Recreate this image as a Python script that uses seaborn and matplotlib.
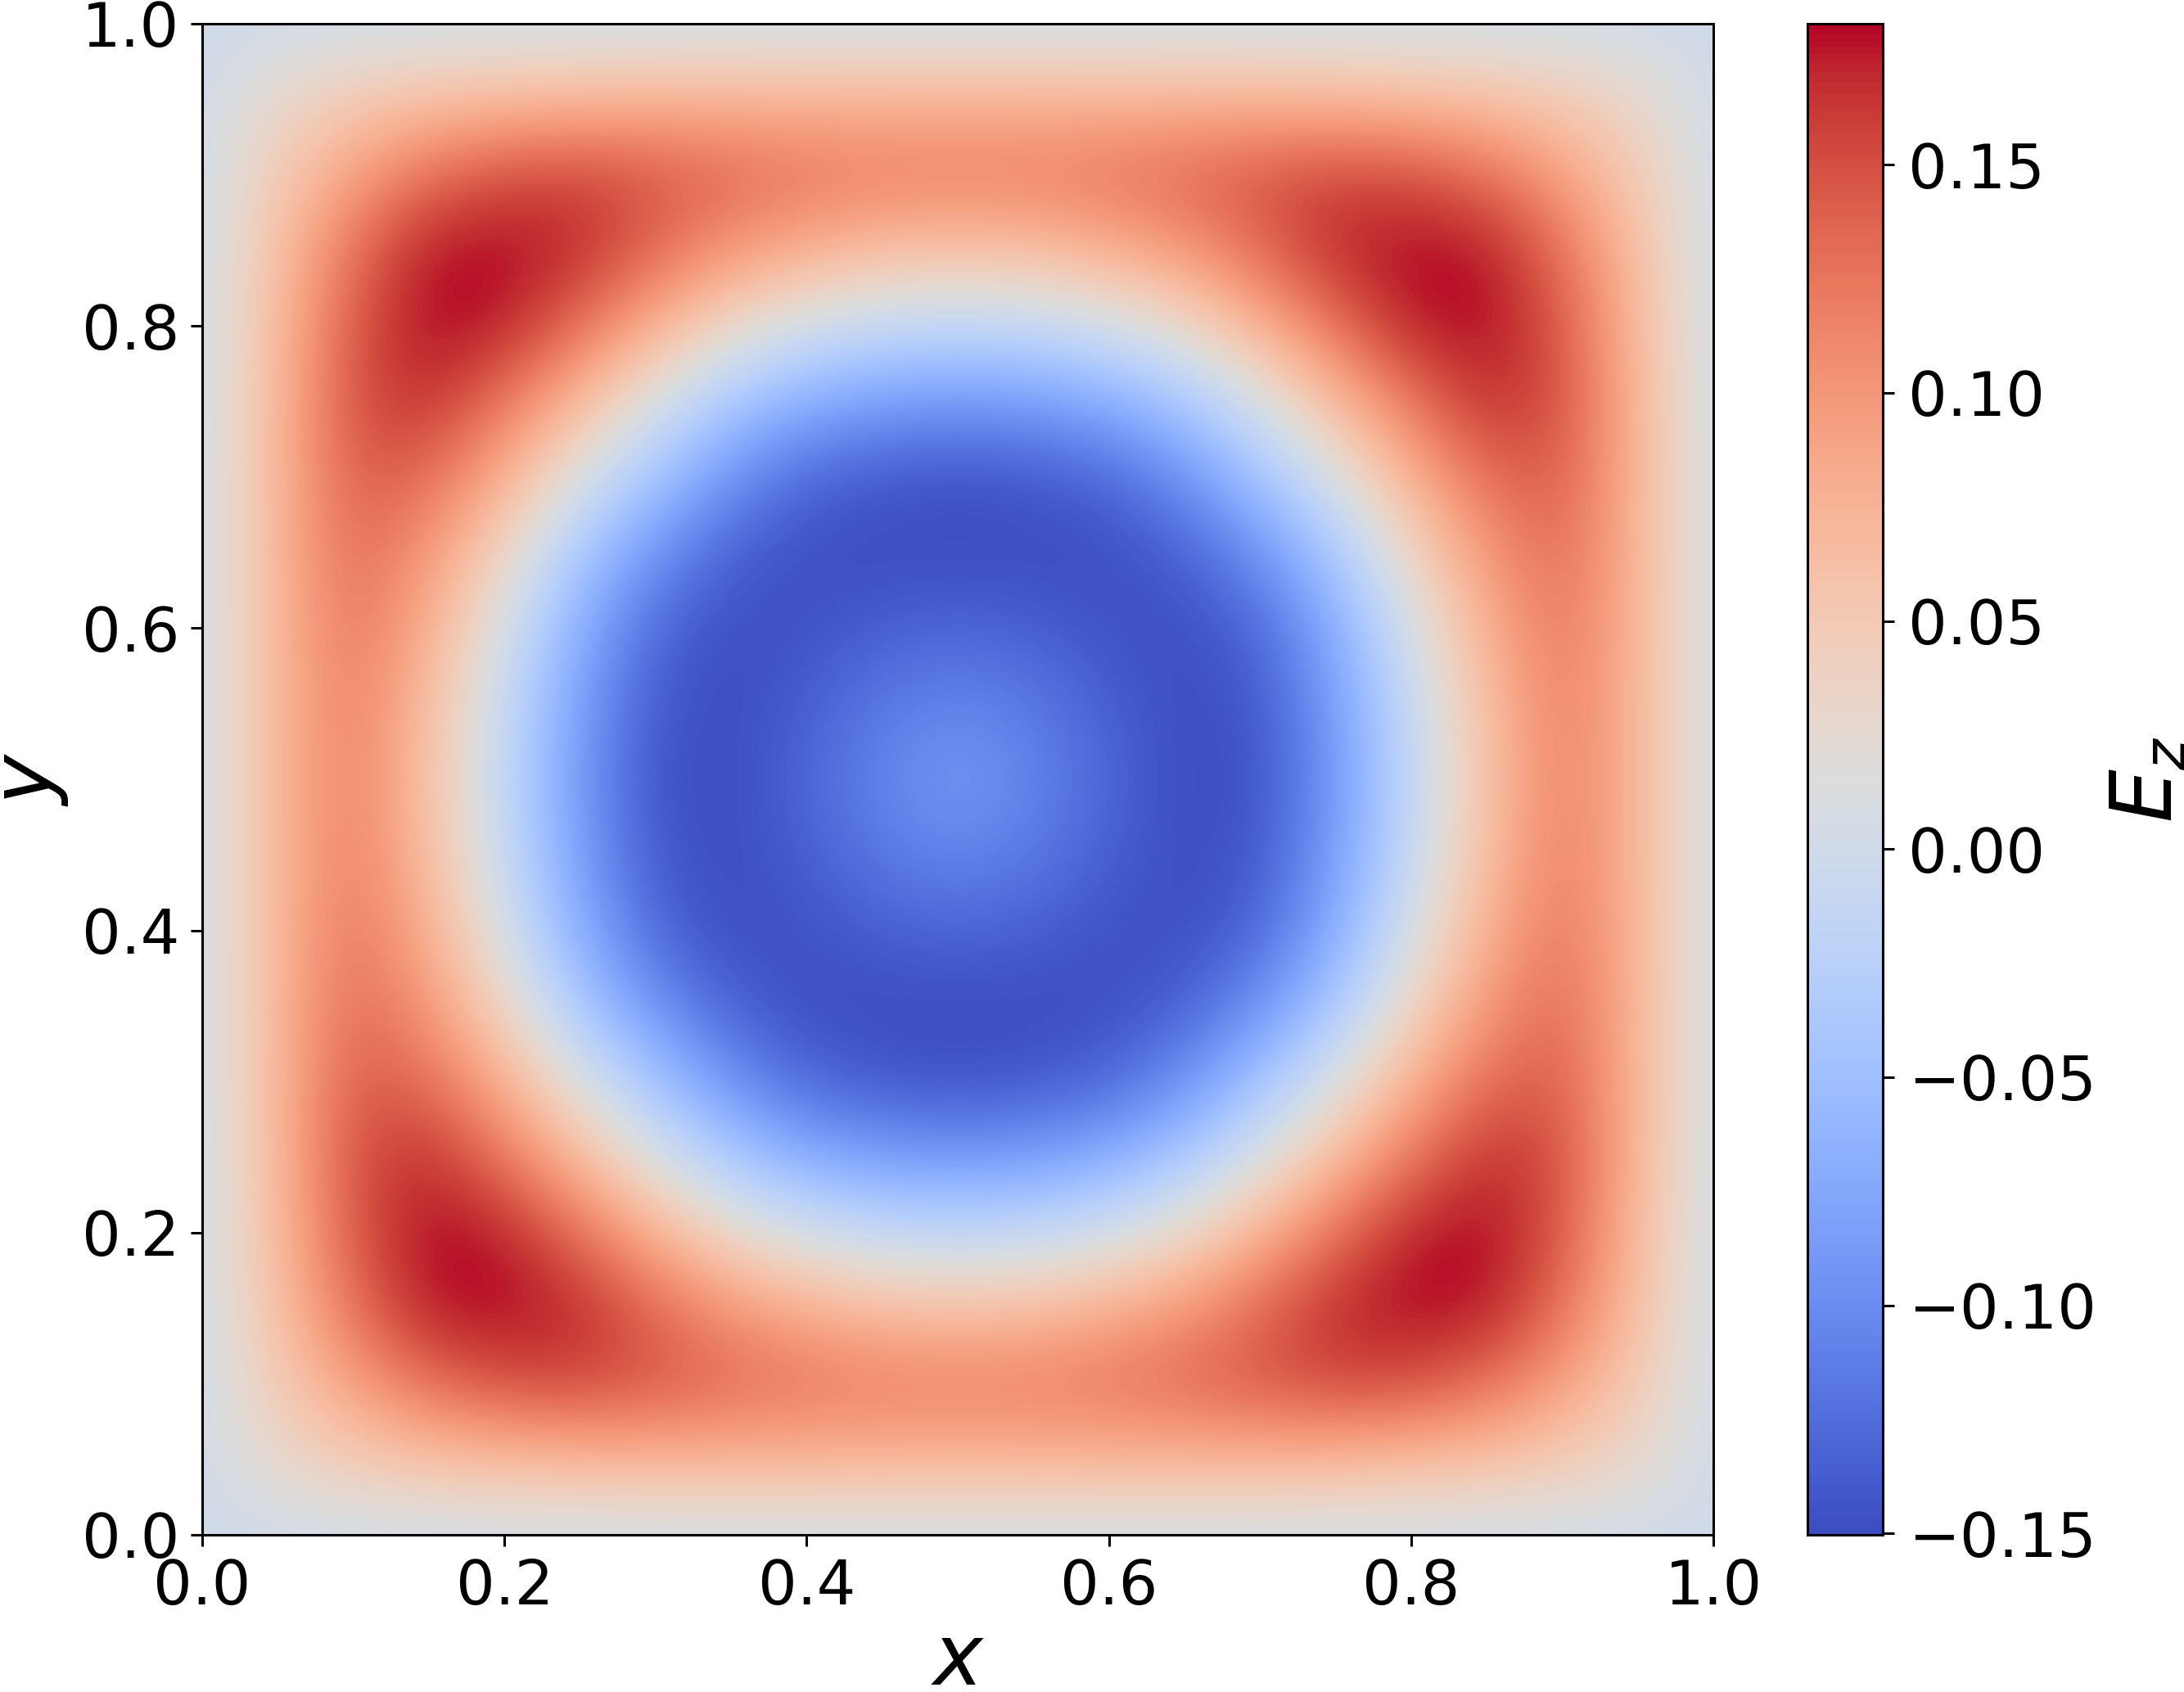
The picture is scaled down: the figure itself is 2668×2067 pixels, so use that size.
import numpy as np
import matplotlib
matplotlib.use("Agg")
import matplotlib.pyplot as plt
import seaborn as sns

# Ez on a 0.05 grid, lower-left quarter (x, y in 0..0.5)
# rows = y (0.00 .. 0.50), columns = x (0.00 .. 0.50)
grid_step = 0.05
ez_quarter = [
    [0, 0.000, 0.000, 0.000, 0.000, 0.000, 0.000, 0.000, 0.000, 0.000, 0.000],
    [0, 0.030, 0.050, 0.062, 0.068, 0.072, 0.075, 0.075, 0.075, 0.075, 0.075],
    [0, 0.050, 0.092, 0.130, 0.150, 0.155, 0.145, 0.135, 0.125, 0.120, 0.120],
    [0, 0.062, 0.130, 0.178, 0.182, 0.170, 0.135, 0.100, 0.080, 0.065, 0.060],
    [0, 0.068, 0.145, 0.182, 0.175, 0.130, 0.078, 0.030, 0.003, -0.012, -0.015],
    [0, 0.072, 0.150, 0.168, 0.125, 0.068, 0.008, -0.040, -0.070, -0.085, -0.090],
    [0, 0.074, 0.142, 0.132, 0.078, 0.010, -0.045, -0.095, -0.130, -0.140, -0.145],
    [0, 0.074, 0.134, 0.100, 0.035, -0.040, -0.095, -0.135, -0.148, -0.150, -0.150],
    [0, 0.074, 0.126, 0.080, 0.005, -0.070, -0.130, -0.148, -0.145, -0.135, -0.130],
    [0, 0.074, 0.121, 0.065, -0.010, -0.085, -0.140, -0.150, -0.135, -0.115, -0.105],
    [0, 0.074, 0.120, 0.060, -0.015, -0.090, -0.145, -0.150, -0.130, -0.105, -0.090],
]
ez_min = -0.1503
ez_max = 0.1809
axis_ticks = [0.0, 0.2, 0.4, 0.6, 0.8, 1.0]
cbar_ticks = [-0.15, -0.10, -0.05, 0.00, 0.05, 0.10, 0.15]

# the field is symmetric about x=0.5 and y=0.5: mirror the quarter
q = np.array(ez_quarter)
half = np.concatenate([q, q[:, -2::-1]], axis=1)
field = np.concatenate([half, half[-2::-1, :]], axis=0)

sns.set_theme(style="ticks")
plt.rcParams['font.family'] = ['DejaVu Sans']
plt.rcParams['mathtext.fontset'] = 'dejavusans'
plt.rcParams.update({"text.color": "black", "axes.labelcolor": "black",
                     "xtick.color": "black", "ytick.color": "black",
                     "axes.edgecolor": "black"})

fig = plt.figure(figsize=(13.34, 10.335), dpi=200)
ax = fig.add_axes([0.0926, 0.0929, 0.6919, 0.8931])
cax = fig.add_axes([0.8276, 0.0929, 0.0345, 0.8931])

cmap = sns.color_palette("coolwarm", as_cmap=True)
h = grid_step / 2
im = ax.imshow(field, origin="lower", cmap=cmap, vmin=ez_min, vmax=ez_max,
               extent=(-h, 1 + h, -h, 1 + h), interpolation="bicubic",
               interpolation_stage="data", aspect="auto")
ax.set_xlim(0, 1)
ax.set_ylim(0, 1)
ax.set_xticks(axis_ticks)
ax.set_yticks(axis_ticks)
ax.set_xlabel("$x$", fontsize=37, labelpad=1)
ax.set_ylabel("$y$", fontsize=37, labelpad=5)
ax.tick_params(labelsize=27, length=5, width=1.1, pad=5, direction="out")
for s in ax.spines.values():
    s.set_linewidth(1.1)

cb = fig.colorbar(im, cax=cax)
cb.set_ticks(cbar_ticks)
cb.ax.tick_params(labelsize=27, length=5, width=1.1, pad=6)
cb.set_label("$E_z$", fontsize=37, labelpad=5)
cb.outline.set_linewidth(1.1)

fig.savefig("out.png", dpi=200)
